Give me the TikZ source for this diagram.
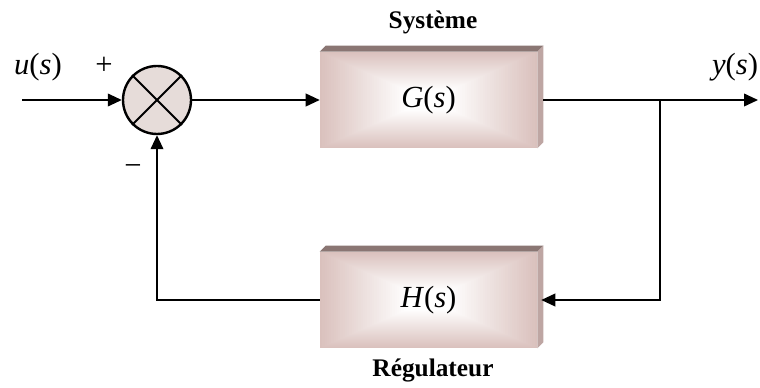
\documentclass[tikz,border=0pt]{standalone}
\usepackage{fontspec}
\setmainfont{Liberation Serif}
\usetikzlibrary{arrows.meta,calc}
\definecolor{boxedge}{RGB}{218,193,189}
\definecolor{bevtop}{RGB}{138,118,115}
\definecolor{bevside}{RGB}{190,166,163}
\definecolor{sumfill}{RGB}{230,220,217}
\tikzset{
  conn/.style={line width=1.3pt, line join=miter},
  arr/.style={conn, -{Triangle[length=10.5pt,width=9.5pt]}},
  mathlbl/.style={font=\fontsize{23}{26}\selectfont, inner sep=0pt},
  titlelbl/.style={font=\fontsize{19}{22}\selectfont\bfseries, inner sep=0pt},
  sumnode/.style={circle, draw, line width=1.8pt, fill=sumfill, minimum size=51pt, inner sep=0pt},
  blockbox/.style={rectangle, minimum width=162.75pt, minimum height=72pt, inner sep=0pt,
    font=\fontsize{23}{26}\selectfont,
    path picture={
      \foreach \k in {0,...,48}{
        \pgfmathsetmacro\s{1-\k/48}
        \pgfmathsetmacro\pct{max(0,100*(1-(\k/48)/0.8))}
        \fill[boxedge!\pct!white]
          ($(path picture bounding box.center)!\s!(path picture bounding box.north west)$)
          rectangle
          ($(path picture bounding box.center)!\s!(path picture bounding box.south east)$);
      }
    }}
}
\newcommand{\bevelof}[1]{%
  \fill[bevtop] (#1.north west) -- ++(6,-6) -- ($(#1.north east)+(6,-6)$) -- (#1.north east) -- cycle;
  \fill[bevside] (#1.north east) -- ++(6,-6) -- ($(#1.south east)+(6,-6)$) -- (#1.south east) -- cycle;
}
\begin{document}
\begin{tikzpicture}[x=0.75pt,y=-0.75pt]
\useasboundingbox (0,0) rectangle (760,388);

\node[blockbox] (G) at (428.5,100) {\textit{G}(\textit{s})};
\bevelof{G}
\node[blockbox] (H) at (428.5,300) {\textit{H}(\textit{s})};
\bevelof{H}

\node[sumnode] (sum) at (157,100) {};
\draw[line width=1.5pt] (sum.north west) -- (sum.south east);
\draw[line width=1.5pt] (sum.north east) -- (sum.south west);

\coordinate (in) at (22,100);
\coordinate (out) at (758,100);
\coordinate (br) at (660,100);
\coordinate (hin) at ($(H.east)+(4,0)$);

\draw[arr] (in) -- (sum.west);
\draw[arr] (sum.east) -- (G.west);
\draw[arr] ($(G.east)+(6,0)$) -- (out);
\draw[arr] (br) |- (hin);
\draw[arr] (H.west) -| (sum.south);

\node[mathlbl] (lu) at (38,67) {\textit{u}(\textit{s})};
\node[mathlbl] (ly) at (735,67) {\textit{y}(\textit{s})};
\node[mathlbl] (lplus) at (104,66) {+};
\node[mathlbl] (lminus) at (133,170) {−};
\node[titlelbl] (lsys) at (433,22) {Système};
\node[titlelbl] (lreg) at (433,370) {Régulateur};
\end{tikzpicture}
\end{document}
